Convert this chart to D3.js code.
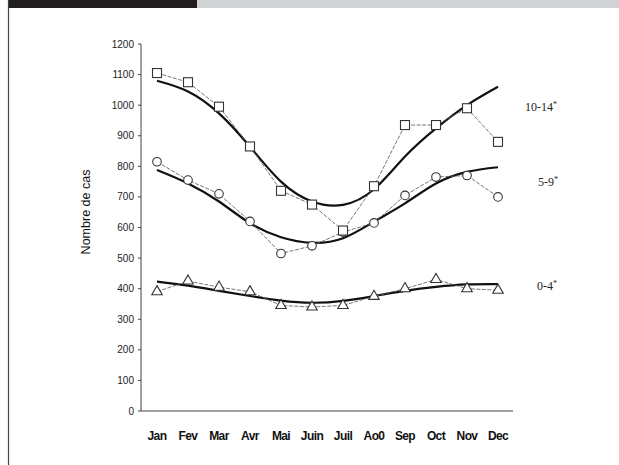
<!DOCTYPE html>
<html>
<head>
<meta charset="utf-8">
<script src="https://cdn.jsdelivr.net/npm/d3@7"></script>
<style>
  body { margin: 0; background: #fff; }
  svg { display: block; }
</style>
</head>
<body>
<svg id="chart" width="619" height="465"></svg>
<script>
const months = ["Jan", "Fev", "Mar", "Avr", "Mai", "Juin", "Juil", "Aoû", "Sep", "Oct", "Nov", "Dec"];
const monthLabels = ["Jan", "Fev", "Mar", "Avr", "Mai", "Juin", "Juil", "Ao0", "Sep", "Oct", "Nov", "Dec"];
const yTicks = [0, 100, 200, 300, 400, 500, 600, 700, 800, 900, 1000, 1100, 1200];

// observed cases per age group
const obs10_14 = [1105, 1075, 995, 865, 720, 675, 590, 735, 935, 935, 990, 880];
const obs5_9 = [815, 755, 710, 620, 515, 540, 585, 615, 705, 765, 770, 700];
const obs0_4 = [390, 425, 405, 390, 345, 340, 345, 375, 400, 430, 400, 395];

// fitted seasonal curves
const fit10_14 = [1080, 1045, 973, 864, 750, 685, 674, 725, 832, 924, 1000, 1060];
const fit5_9 = [788, 744, 685, 614, 568, 550, 565, 619, 679, 744, 782, 797];
const fit0_4 = [423, 410, 393, 376, 361, 354, 360, 376, 393, 406, 414, 415];

const groupLabels = ["10-14", "5-9", "0-4"];

const svg = d3.select("#chart");

// page header bars
svg.append("rect").attr("x", 8).attr("y", 0).attr("width", 189).attr("height", 8).attr("fill", "#231f20");
svg.append("rect").attr("x", 197).attr("y", 0).attr("width", 422).attr("height", 8).attr("fill", "#d1d2d4");
svg.append("line").attr("x1", 8.5).attr("x2", 8.5).attr("y1", 0).attr("y2", 465)
  .attr("stroke", "#444").attr("stroke-width", 1.2);

const x = d3.scalePoint().domain(months).range([157, 498]);
const y = d3.scaleLinear().domain([0, 1200]).range([411, 44]);

/* ------- AXES -------*/
svg.append("line").attr("x1", 141).attr("x2", 141).attr("y1", y(1200)).attr("y2", y(0))
  .attr("stroke", "#444").attr("stroke-width", 1);
svg.append("line").attr("x1", 141).attr("x2", 513).attr("y1", y(0)).attr("y2", y(0))
  .attr("stroke", "#444").attr("stroke-width", 1);

svg.selectAll("line.ytick").data(yTicks).enter().append("line")
  .attr("class", "ytick")
  .attr("x1", 138).attr("x2", 141)
  .attr("y1", d => y(d)).attr("y2", d => y(d))
  .attr("stroke", "#444");

svg.selectAll("text.ylab").data(yTicks).enter().append("text")
  .attr("class", "ylab")
  .attr("x", 134)
  .attr("y", d => y(d) + 3.5)
  .attr("text-anchor", "end")
  .attr("font-family", "Arial, 'Liberation Sans', sans-serif")
  .attr("font-size", 10)
  .attr("fill", "#222")
  .text(d => d);

svg.selectAll("text.xlab").data(months).enter().append("text")
  .attr("class", "xlab")
  .attr("x", d => x(d))
  .attr("y", 440)
  .attr("text-anchor", "middle")
  .attr("font-family", "Arial, 'Liberation Sans', sans-serif")
  .attr("font-size", 12)
  .attr("font-weight", "bold")
  .attr("letter-spacing", -0.6)
  .attr("fill", "#111")
  .text((d, i) => monthLabels[i]);

svg.append("text")
  .attr("transform", "translate(90,212) rotate(-90)")
  .attr("text-anchor", "middle")
  .attr("font-family", "Arial, 'Liberation Sans', sans-serif")
  .attr("font-size", 12.5)
  .attr("fill", "#111")
  .text("Nombre de cas");

/* ------- FITTED CURVES -------*/
const fitLine = d3.line()
  .x((d, i) => x(months[i]))
  .y(d => y(d))
  .curve(d3.curveNatural);

[fit10_14, fit5_9, fit0_4].forEach(f => {
  svg.append("path").attr("d", fitLine(f))
    .attr("fill", "none").attr("stroke", "#111").attr("stroke-width", 2.2);
});

/* ------- OBSERVED LINES + MARKERS -------*/
const obsLine = d3.line()
  .x((d, i) => x(months[i]))
  .y(d => y(d));

[obs10_14, obs5_9, obs0_4].forEach(o => {
  svg.append("path").attr("d", obsLine(o))
    .attr("fill", "none").attr("stroke", "#666").attr("stroke-width", 0.9)
    .attr("stroke-dasharray", "4,1.5");
});

svg.selectAll("circle.c59").data(obs5_9).enter().append("circle")
  .attr("class", "c59")
  .attr("cx", (d, i) => x(months[i]))
  .attr("cy", d => y(d))
  .attr("r", 4.3)
  .attr("fill", "#fff").attr("stroke", "#333").attr("stroke-width", 1.1);

svg.selectAll("rect.s1014").data(obs10_14).enter().append("rect")
  .attr("class", "s1014")
  .attr("x", (d, i) => x(months[i]) - 4.5)
  .attr("y", d => y(d) - 4.5)
  .attr("width", 9).attr("height", 9)
  .attr("fill", "#fff").attr("stroke", "#333").attr("stroke-width", 1.1);

const tri = d3.symbol().type(d3.symbolTriangle).size(48);
svg.selectAll("path.t04").data(obs0_4).enter().append("path")
  .attr("class", "t04")
  .attr("d", tri)
  .attr("transform", (d, i) => `translate(${x(months[i])},${y(d)})`)
  .attr("fill", "#fff").attr("stroke", "#333").attr("stroke-width", 1.1);

/* ------- GROUP LABELS -------*/
const labelPos = [[525, 111], [538, 186], [537, 290]];
groupLabels.forEach((g, i) => {
  const t = svg.append("text")
    .attr("x", labelPos[i][0]).attr("y", labelPos[i][1])
    .attr("font-family", "'Times New Roman', 'Liberation Serif', serif")
    .attr("font-size", 12)
    .attr("fill", "#222");
  t.append("tspan").text(g);
  t.append("tspan").attr("dy", -4).attr("font-size", 8).text("*");
});
</script>
</body>
</html>
